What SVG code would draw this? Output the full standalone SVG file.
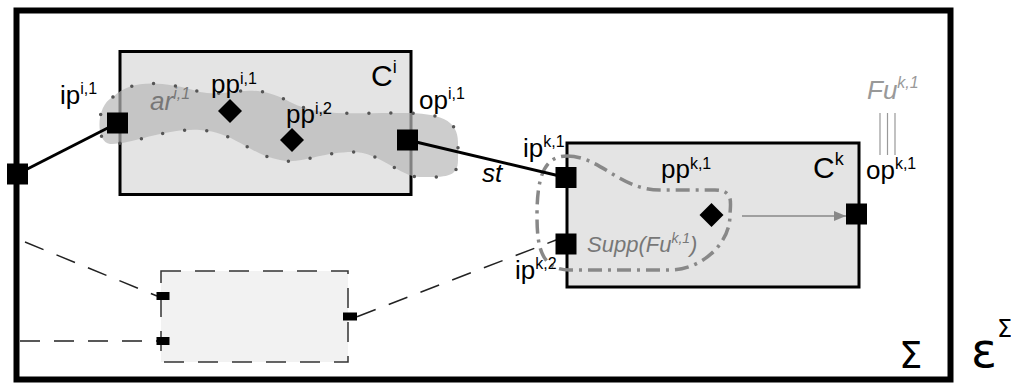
<svg xmlns="http://www.w3.org/2000/svg" width="1011" height="383" viewBox="0 0 1011 383">
<style>
.lbl{font-family:"Liberation Sans",Arial,sans-serif;font-size:26px;fill:#000}
.sup{font-size:16px}
.gray{fill:#777;font-style:italic}
.port{fill:#000}
.box{fill:#e4e4e4;stroke:#000;stroke-width:3}
.solid{stroke:#000;stroke-width:3;fill:none}
.dash{stroke:#222;stroke-width:1.5;fill:none;stroke-dasharray:20 14}
</style>
<defs>
<marker id="ah" viewBox="0 0 12 10" refX="12" refY="5" markerWidth="12" markerHeight="10" markerUnits="userSpaceOnUse" orient="auto">
<path d="M0,0 L12,5 L0,10 Z" fill="#888"/>
</marker>
</defs>
<rect width="1011" height="383" fill="#fff"/>
<g id="sigma">
<rect x="16.5" y="10.5" width="934" height="369" fill="#fff" stroke="#000" stroke-width="6"/>
<text x="899" y="368" style="font-family:'DejaVu Sans',sans-serif;font-size:37px">Σ</text>
</g>
<text x="971" y="367" style="font-family:'DejaVu Sans',sans-serif;font-size:48px">ε<tspan dy="-30" style="font-size:24px">Σ</tspan></text>
<g id="Ci">
<rect class="box" x="120" y="51.5" width="291" height="143"/>
<text class="lbl" x="371" y="86" style="font-size:30px">C<tspan dy="-13" style="font-size:18px">i</tspan></text>
</g>
<g id="Ck">
<rect class="box" x="567" y="143" width="292" height="144"/>
<text class="lbl" x="813" y="178" style="font-size:30px">C<tspan dy="-13" style="font-size:18px">k</tspan></text>
</g>
<g id="ar">
<path d="M113 97 C130 80 160 80 200 92 C230 98 250 80 290 102 C320 118 360 112 403 113 C440 113 458 120 458 142 L458 160 C458 178 445 177 420 177 C400 177 380 152 353 152 C320 152 300 165 280 160 C250 155 235 132 200 130 C165 128 130 145 110 144 C95 142 96 105 113 97 Z" fill="#b8b8b8" fill-opacity="0.7" stroke="#555" stroke-width="3.5" stroke-linecap="round" stroke-dasharray="0 22"/>
<text class="lbl gray" x="150" y="110">ar<tspan class="sup" dy="-11">i,1</tspan></text>
</g>
<g id="supp">
<path d="M567 156 C600 156 620 190 660 190 L715 190 C735 190 730 205 730 215 C730 245 700 270 670 270 L570 270 C540 270 537 245 537 215 C537 175 545 156 567 156 Z" fill="none" stroke="#888" stroke-width="3.5" stroke-dasharray="14 6 3 6"/>
<text class="lbl gray" x="587" y="252" style="font-size:22px">Supp(Fu<tspan dy="-9" style="font-size:14px">k,1</tspan><tspan dy="9">)</tspan></text>
</g>
<g id="connectors">
<line class="solid" x1="17.5" y1="174" x2="117.5" y2="123"/>
<line class="solid" x1="407.5" y1="140" x2="566" y2="177.5"/>
<line class="dash" x1="25" y1="242" x2="157" y2="296"/>
<line class="dash" x1="20" y1="341" x2="157" y2="341"/>
<line class="dash" x1="357" y1="316.7" x2="556" y2="240"/>
<line x1="742" y1="216" x2="846" y2="216" stroke="#888" stroke-width="1.5" marker-end="url(#ah)"/>
<text class="lbl" x="482" y="182" style="font-style:italic">st</text>
</g>
<g id="dashedbox">
<rect x="161" y="271" width="187" height="91" fill="#f2f2f2" stroke="#333" stroke-width="1.5" stroke-dasharray="20 14"/>
<rect class="port" x="156.5" y="292" width="13" height="8"/>
<rect class="port" x="156.5" y="337" width="13" height="8"/>
<rect class="port" x="343" y="312.5" width="14" height="8"/>
</g>
<g id="ip-i1">
<rect class="port" x="107" y="112.5" width="21" height="21"/>
<text class="lbl" x="60" y="104">ip<tspan class="sup" dy="-10">i,1</tspan></text>
</g>
<g id="ip-sigma">
<rect class="port" x="7" y="163.5" width="21" height="21"/>
</g>
<g id="pp-i1">
<path d="M230 99 L242 111 L230 123 L218 111 Z"/>
<text class="lbl" x="211" y="93">pp<tspan class="sup" dy="-9">i,1</tspan></text>
</g>
<g id="pp-i2">
<path d="M292 128 L304 140 L292 152 L280 140 Z"/>
<text class="lbl" x="286" y="123">pp<tspan class="sup" dy="-9">i,2</tspan></text>
</g>
<g id="op-i1">
<rect class="port" x="397" y="129.5" width="21" height="21"/>
<text class="lbl" x="419" y="109">op<tspan class="sup" dy="-10">i,1</tspan></text>
</g>
<g id="ip-k1">
<rect class="port" x="555.5" y="167" width="21" height="21"/>
<text class="lbl" x="523" y="157">ip<tspan class="sup" dy="-10">k,1</tspan></text>
</g>
<g id="ip-k2">
<rect class="port" x="555.5" y="233.5" width="21" height="21"/>
<text class="lbl" x="515" y="279">ip<tspan class="sup" dy="-10">k,2</tspan></text>
</g>
<g id="pp-k1">
<path d="M711.5 203 L723.5 215 L711.5 227 L699.5 215 Z"/>
<text class="lbl" x="661" y="178">pp<tspan class="sup" dy="-9">k,1</tspan></text>
</g>
<g id="op-k1">
<rect class="port" x="846" y="203.5" width="21" height="21"/>
<text class="lbl" x="866" y="179">op<tspan class="sup" dy="-10">k,1</tspan></text>
</g>
<g id="fu">
<text class="lbl" x="867" y="99" style="font-style:italic;fill:#999">Fu<tspan class="sup" dy="-11">k,1</tspan></text>
<path d="M880 113 V155 M887.5 113 V155 M895 113 V155" stroke="#999" stroke-width="1.2"/>
</g>
</svg>
